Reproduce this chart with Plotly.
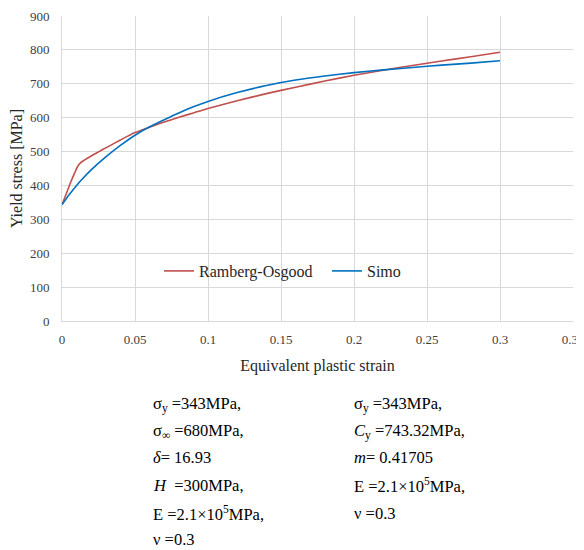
import plotly.graph_objects as go

# Data
ro_strain = [0, 0.003, 0.006, 0.009, 0.011, 0.013, 0.015, 0.02, 0.025, 0.03, 0.04, 0.05,
             0.06, 0.07, 0.08, 0.09, 0.10, 0.12, 0.14, 0.16, 0.18, 0.20, 0.22, 0.24,
             0.26, 0.28, 0.30]
ro_stress = [343, 376, 410, 440, 458, 468, 474, 487, 499, 511, 534, 556,
             572, 587, 601, 614, 627, 650, 671, 690, 708, 725, 740, 754,
             767, 780, 793]

simo_strain = [0, 0.005, 0.01, 0.015, 0.02, 0.03, 0.04, 0.05, 0.06, 0.07, 0.08, 0.09,
               0.10, 0.12, 0.14, 0.16, 0.18, 0.20, 0.22, 0.24, 0.26, 0.28, 0.30]
simo_stress = [343, 373, 400, 424, 446, 484, 518, 548, 573, 594, 614, 632,
               648, 674, 695, 711, 723, 733, 741, 748, 755, 761, 768]

x_ticks = [0, 0.05, 0.1, 0.15, 0.2, 0.25, 0.3, 0.35]
y_ticks = [0, 100, 200, 300, 400, 500, 600, 700, 800, 900]

left_params = [
    "σ<sub>y</sub> =343MPa,",
    "σ<sub>∞</sub> =680MPa,",
    "<i>δ</i>= 16.93",
    "<i>H</i>  =300MPa,",
    "E =2.1×10<sup>5</sup>MPa,",
    "ν =0.3",
]
right_params = [
    "σ<sub>y</sub> =343MPa,",
    "<i>C</i><sub>y</sub> =743.32MPa,",
    "<i>m</i>= 0.41705",
    "E =2.1×10<sup>5</sup>MPa,",
    "ν =0.3",
]

FONT = "Liberation Serif"

fig = go.Figure()
fig.add_trace(go.Scatter(x=ro_strain, y=ro_stress, mode="lines", name="Ramberg-Osgood",
                         line=dict(color="#c0504d", width=1.6, shape="spline", smoothing=0.6)))
fig.add_trace(go.Scatter(x=simo_strain, y=simo_stress, mode="lines", name="Simo",
                         line=dict(color="#0070c0", width=1.6, shape="spline", smoothing=0.6)))

# page is drawn with an 8px body margin; plot area in page px: x 62..573, y 16..321
def px(xp):
    return (xp - 62) / 511

def py(yp):
    return (321 - yp) / 305

row_y = [404, 431, 457, 485, 513, 539]
annotations = []
for i, t in enumerate(left_params):
    annotations.append(dict(text=t, xref="paper", yref="paper", x=px(151), y=py(row_y[i]),
                            xanchor="left", yanchor="middle", showarrow=False,
                            font=dict(family=FONT, size=16.5, color="black")))
for i, t in enumerate(right_params):
    annotations.append(dict(text=t, xref="paper", yref="paper", x=px(352), y=py(row_y[i]),
                            xanchor="left", yanchor="middle", showarrow=False,
                            font=dict(family=FONT, size=16.5, color="black")))

fig.update_layout(
    width=584, height=542,
    margin=dict(l=54, r=19, t=8, b=229),
    paper_bgcolor="white", plot_bgcolor="white",
    font=dict(family=FONT, color="#262626"),
    showlegend=True,
    legend=dict(orientation="h", x=px(159), y=py(271),
                xanchor="left", yanchor="middle",
                font=dict(family=FONT, size=16, color="#262626"), bgcolor="rgba(0,0,0,0)",
                itemwidth=30, entrywidth=123, entrywidthmode="pixels"),
    annotations=annotations,
    xaxis=dict(range=[-1e-6, 0.35 + 1e-6], tickvals=x_ticks, ticktext=[f"{v:g}" for v in x_ticks],
               showgrid=True, gridcolor="#d9d9d9", gridwidth=1, zeroline=False,
               showline=True, linecolor="#d9d9d9", linewidth=1, automargin=False,
               ticklabeloverflow="allow",
               tickfont=dict(family=FONT, size=13, color="#404040"), ticklabelstandoff=6,
               title=dict(text="Equivalent plastic strain", standoff=14,
                          font=dict(family=FONT, size=16, color="#262626"))),
    yaxis=dict(range=[0, 900], tickvals=y_ticks,
               showgrid=True, gridcolor="#d9d9d9", gridwidth=1, zeroline=False,
               showline=True, linecolor="#d9d9d9", linewidth=1, automargin=False,
               tickfont=dict(family=FONT, size=13, color="#404040"), ticklabelstandoff=9,
               title=dict(text="Yield stress [MPa]", standoff=8,
                          font=dict(family=FONT, size=16, color="#262626"))),
)

fig.write_html("out.html")
